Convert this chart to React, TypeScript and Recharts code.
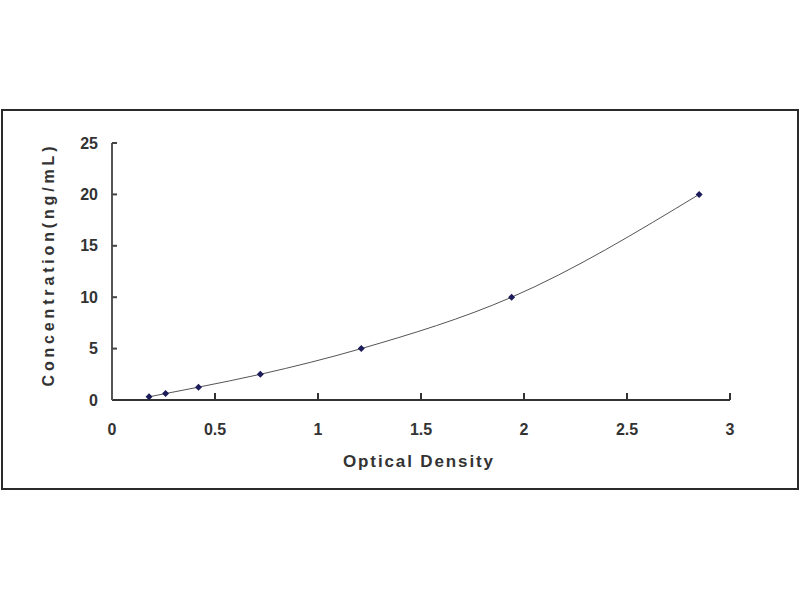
import React from 'react'
import { LineChart, Line, XAxis, YAxis } from 'recharts'

// standard curve: optical density vs concentration
const odValues = [0.18, 0.26, 0.42, 0.72, 1.21, 1.94, 2.85]
const concValues = [0.312, 0.625, 1.25, 2.5, 5, 10, 20]
const xTicks = [0, 0.5, 1, 1.5, 2, 2.5, 3]
const yTicks = [0, 5, 10, 15, 20, 25]

const data = odValues.map((od, i) => ({ od, conc: concValues[i] }))

const font = '"Liberation Sans", Arial, sans-serif'
const X_MARGIN = 24
const Y_MARGIN = 14

const Diamond = (props: any) => {
  const { cx, cy, index } = props
  if (cx == null || cy == null) return <g key={index} />
  const r = 3.5
  return (
    <path
      key={index}
      d={`M${cx},${cy - r}L${cx + r},${cy}L${cx},${cy + r}L${cx - r},${cy}Z`}
      fill="#1c1c5a"
    />
  )
}

// tick label plus an inward tick mark
const XTick = (props: any) => {
  const { x, y, payload } = props
  const axisY = y - X_MARGIN
  return (
    <g>
      {payload.value !== 0 && (
        <line x1={x} x2={x} y1={axisY} y2={axisY - 7} stroke="#333" strokeWidth={2} />
      )}
      <text x={x} y={y} dy="0.71em" textAnchor="middle" fontFamily={font} fontSize={16} fontWeight="bold" fill="#333">
        {payload.value}
      </text>
    </g>
  )
}

const YTick = (props: any) => {
  const { x, y, payload } = props
  const axisX = x + Y_MARGIN
  return (
    <g>
      {payload.value !== 0 && (
        <line x1={axisX} x2={axisX + 5} y1={y} y2={y} stroke="#444" strokeWidth={2} />
      )}
      <text x={x} y={y} dy="0.355em" textAnchor="end" fontFamily={font} fontSize={16} fontWeight="bold" fill="#333">
        {payload.value}
      </text>
    </g>
  )
}

const YTitle = (props: any) => {
  const { viewBox } = props
  const cy = viewBox.y + viewBox.height / 2 - 5
  return (
    <text
      x={48}
      y={cy}
      transform={`rotate(-90 48 ${cy})`}
      textAnchor="middle"
      dominantBaseline="central"
      fontFamily={font}
      fontWeight="bold"
      fontSize={16}
      fill="#333"
      textLength={240}
      lengthAdjust="spacing"
    >
      Concentration(ng/mL)
    </text>
  )
}

const XTitle = (props: any) => {
  const { viewBox } = props
  const cx = viewBox.x + viewBox.width / 2 - 3
  return (
    <text
      x={cx}
      y={461}
      textAnchor="middle"
      dominantBaseline="central"
      fontFamily={font}
      fontWeight="bold"
      fontSize={17}
      fill="#333"
      textLength={150}
      lengthAdjust="spacing"
    >
      Optical Density
    </text>
  )
}

export default function App() {
  return (
    <div style={{ position: 'absolute', left: 0, top: 0, width: 800, height: 600, background: '#fff' }}>
      <div
        style={{
          position: 'absolute',
          left: 1,
          top: 109,
          width: 794,
          height: 377,
          border: '2px solid #2a2a2a',
        }}
      />
      <div style={{ position: 'absolute', left: 0, top: 0 }}>
        <LineChart
          width={800}
          height={600}
          data={data}
          margin={{ top: 143, right: 70, bottom: 140, left: 52 }}
        >
          <XAxis
            type="number"
            dataKey="od"
            domain={[0, 3]}
            ticks={xTicks}
            height={60}
            tickSize={0}
            tickMargin={X_MARGIN}
            tickLine={false}
            tick={<XTick />}
            stroke="#333"
            strokeWidth={2}
            interval={0}
            label={<XTitle />}
          />
          <YAxis
            type="number"
            dataKey="conc"
            domain={[0, 25]}
            ticks={yTicks}
            width={60}
            tickSize={0}
            tickMargin={Y_MARGIN}
            tickLine={false}
            tick={<YTick />}
            stroke="#555"
            strokeWidth={2}
            interval={0}
            label={<YTitle />}
          />
          <Line
            type="monotone"
            dataKey="conc"
            stroke="#555"
            strokeWidth={1}
            dot={Diamond}
            activeDot={false}
            isAnimationActive={false}
          />
        </LineChart>
      </div>
    </div>
  )
}
